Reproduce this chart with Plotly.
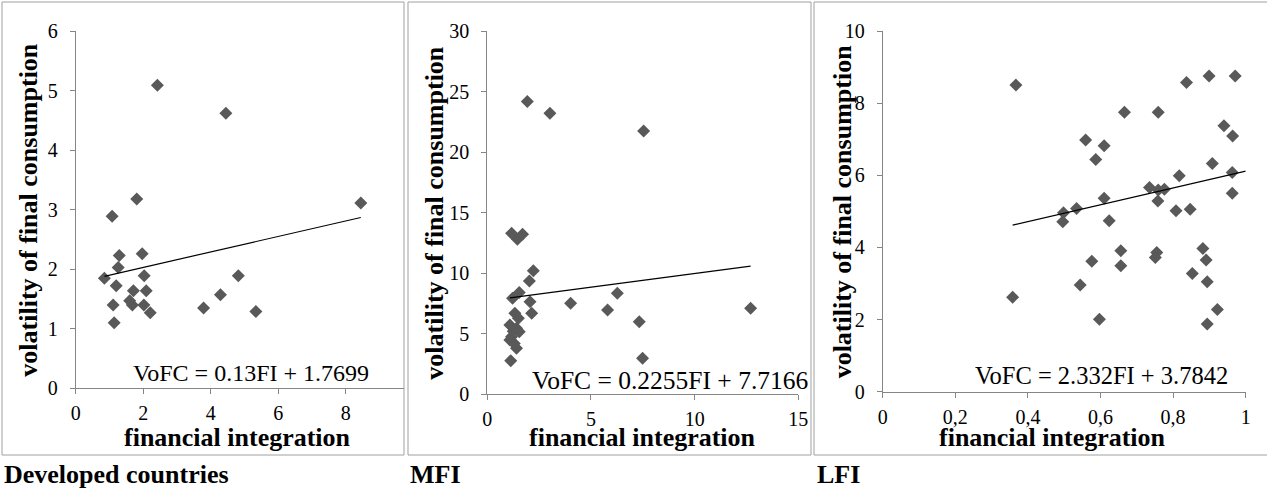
import numpy as np
import plotly.graph_objects as go

# ---------------- data ----------------
dev_fi = [2.42, 4.45, 1.81, 1.08, 8.45, 1.29, 1.97, 1.26, 0.85, 1.20, 2.03, 1.71, 2.09,
          4.82, 4.29, 1.11, 1.68, 1.60, 2.02, 2.21, 3.79, 5.34, 1.14]
dev_vofc = [5.09, 4.62, 3.18, 2.89, 3.11, 2.23, 2.26, 2.03, 1.85, 1.72, 1.89, 1.64, 1.64,
            1.89, 1.57, 1.40, 1.40, 1.47, 1.40, 1.27, 1.35, 1.29, 1.10]

mfi_fi = [1.93, 3.02, 7.54, 1.17, 1.45, 1.70, 2.22, 2.03, 1.54, 1.22, 2.06, 2.14, 1.33,
          1.50, 1.09, 1.41, 1.17, 1.54, 1.09, 1.41, 1.13, 4.02, 5.80, 6.27, 7.33, 7.49,
          12.70, 1.25, 1.30]
mfi_vofc = [24.17, 23.20, 21.74, 13.29, 12.80, 13.21, 10.21, 9.36, 8.40, 7.93, 7.65, 6.69,
            6.69, 6.28, 5.73, 5.45, 4.76, 5.17, 4.49, 3.80, 2.78, 7.51, 6.96, 8.34, 6.00,
            2.97, 7.10, 5.20, 4.20]

lfi_fi = [0.367, 0.358, 0.498, 0.496, 0.534, 0.559, 0.587, 0.610, 0.610, 0.624, 0.576,
          0.544, 0.597, 0.666, 0.656, 0.656, 0.735, 0.759, 0.776, 0.758, 0.759, 0.755,
          0.751, 0.817, 0.808, 0.847, 0.837, 0.899, 0.971, 0.940, 0.964, 0.908, 0.963,
          0.963, 0.882, 0.891, 0.853, 0.894, 0.922, 0.894]
lfi_vofc = [8.50, 2.62, 4.96, 4.71, 5.08, 6.98, 6.44, 6.82, 5.36, 4.74, 3.62, 2.96, 2.01,
            7.75, 3.91, 3.49, 5.66, 5.59, 5.61, 5.29, 7.75, 3.86, 3.72, 5.99, 5.02, 5.06,
            8.57, 8.75, 8.75, 7.37, 7.09, 6.33, 6.08, 5.50, 3.97, 3.65, 3.28, 3.05, 2.28,
            1.88]

slopes = [0.13, 0.2255, 2.332]
intercepts = [1.7699, 7.7166, 3.7842]
equations = ["VoFC = 0.13FI + 1.7699", "VoFC = 0.2255FI + 7.7166", "VoFC = 2.332FI + 3.7842"]
panel_names = ["Developed countries", "MFI", "LFI"]

lfi_ticks = [0, 0.2, 0.4, 0.6, 0.8, 1]
lfi_ticktext = ["0", "0,2", "0,4", "0,6", "0,8", "1"]

x_title = "financial integration"
y_title = "volatility of final consumption"

# ---------------- layout helpers ----------------
W, H = 1267, 488
def px(x):
    return x / W
def py(y):
    return 1 - y / H

FONT = "Liberation Serif"
MARK = "#595959"
AXC = "#868686"

panels = [
    dict(xs=dev_fi, ys=dev_vofc, xdom=(75.7, 404), ydom=(388.3, 31), xr=[0, 9.73], yr=[0, 6],
         dx=2, dy=1, box=(2, 404, 2, 455), ytx=29, xtx=237, eqx=251, eqy=373, eqs=24,
         labx=2, trend_end=None),
    dict(xs=mfi_fi, ys=mfi_vofc, xdom=(487.3, 798.3), ydom=(394.3, 31), xr=[0, 15], yr=[0, 30],
         dx=5, dy=5, box=(408, 811, 2, 455), ytx=435, xtx=642, eqx=670, eqy=380, eqs=25.5,
         labx=408, trend_end=None),
    dict(xs=lfi_fi, ys=lfi_vofc, xdom=(882.7, 1245.7), ydom=(391.7, 31), xr=[0, 1], yr=[0, 10],
         dx=0.2, dy=2, box=(814, 1275, 2, 455), ytx=842, xtx=1052, eqx=1101, eqy=375, eqs=24.5,
         labx=815, trend_end=1.0),
]

fig = go.Figure()
shapes = []
annotations = []

for i, p in enumerate(panels):
    n = "" if i == 0 else str(i + 1)
    xa, ya = "x" + n, "y" + n
    fig.add_trace(go.Scatter(x=p["xs"], y=p["ys"], mode="markers", xaxis=xa, yaxis=ya,
                             marker=dict(symbol="diamond", size=10, color=MARK, line=dict(width=0)),
                             showlegend=False, hoverinfo="x+y"))
    x0 = min(p["xs"])
    x1 = p["trend_end"] if p["trend_end"] is not None else max(p["xs"])
    tx = np.array([x0, x1])
    fig.add_trace(go.Scatter(x=tx, y=slopes[i] * tx + intercepts[i], mode="lines", xaxis=xa, yaxis=ya,
                             line=dict(color="black", width=1.2), showlegend=False, hoverinfo="skip"))

    xaxis = dict(domain=[px(p["xdom"][0]), px(p["xdom"][1])], range=p["xr"], anchor=ya,
                 showgrid=False, zeroline=False, showline=True, linecolor=AXC, linewidth=1,
                 ticks="outside", ticklen=5, tickcolor=AXC, tickwidth=1, automargin=False,
                 tickfont=dict(family=FONT, size=20, color="black"), ticklabelstandoff=2)
    if i == 2:
        xaxis.update(tickmode="array", tickvals=lfi_ticks, ticktext=lfi_ticktext)
    else:
        xaxis.update(tick0=0, dtick=p["dx"])
    yaxis = dict(domain=[py(p["ydom"][0]), py(p["ydom"][1])], range=p["yr"], anchor=xa,
                 showgrid=False, zeroline=False, showline=True, linecolor=AXC, linewidth=1,
                 ticks="outside", ticklen=5, tickcolor=AXC, tickwidth=1, tick0=0, dtick=p["dy"],
                 automargin=False,
                 tickfont=dict(family=FONT, size=20, color="black"), ticklabelstandoff=8)
    fig.layout["xaxis" + n] = xaxis
    fig.layout["yaxis" + n] = yaxis

    bx0, bx1, by0, by1 = p["box"]
    shapes.append(dict(type="rect", xref="paper", yref="paper", x0=px(bx0), x1=px(bx1),
                       y0=py(by1), y1=py(by0), line=dict(color="#a0a0a0", width=1), layer="below"))

    annotations.append(dict(text=y_title, xref="paper", yref="paper", x=px(p["ytx"]),
                            y=py((p["ydom"][0] + p["ydom"][1]) / 2), textangle=-90, showarrow=False,
                            xanchor="center", yanchor="middle",
                            font=dict(family=FONT, size=26, color="black", weight="bold")))
    annotations.append(dict(text=x_title, xref="paper", yref="paper", x=px(p["xtx"]), y=py(437),
                            showarrow=False, xanchor="center", yanchor="middle",
                            font=dict(family=FONT, size=26, color="black", weight="bold")))
    annotations.append(dict(text=equations[i], xref="paper", yref="paper", x=px(p["eqx"]), y=py(p["eqy"]),
                            showarrow=False, xanchor="center", yanchor="middle",
                            font=dict(family=FONT, size=p["eqs"], color="black")))
    annotations.append(dict(text=panel_names[i], xref="paper", yref="paper", x=px(p["labx"]), y=py(474),
                            showarrow=False, xanchor="left", yanchor="middle",
                            font=dict(family=FONT, size=26, color="black", weight="bold")))

fig.update_layout(width=W, height=H, margin=dict(l=0, r=0, t=0, b=0),
                  paper_bgcolor="white", plot_bgcolor="white",
                  shapes=shapes, annotations=annotations, showlegend=False)

fig.write_html("out.html")
